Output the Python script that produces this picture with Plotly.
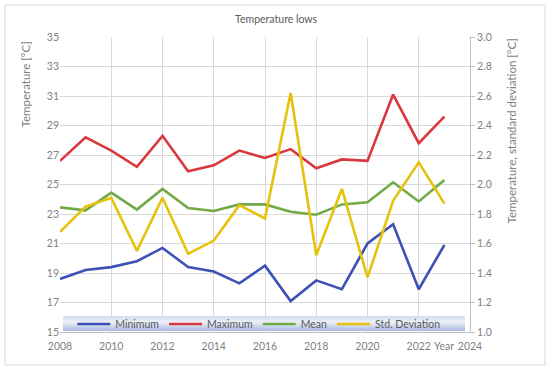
import base64
import plotly.graph_objects as go

years = list(range(2008, 2024))
minimum = [18.6, 19.2, 19.4, 19.8, 20.7, 19.4, 19.1, 18.3, 19.5, 17.1, 18.5, 17.9, 21.0, 22.3, 17.9, 20.9]
maximum = [26.6, 28.2, 27.3, 26.2, 28.3, 25.9, 26.3, 27.3, 26.8, 27.4, 26.1, 26.7, 26.6, 31.1, 27.8, 29.6]
mean = [23.45, 23.25, 24.45, 23.3, 24.7, 23.4, 23.2, 23.65, 23.65, 23.15, 22.95, 23.65, 23.8, 25.15, 23.85, 25.3]
std_dev = [1.68, 1.85, 1.91, 1.55, 1.91, 1.53, 1.62, 1.86, 1.77, 2.62, 1.52, 1.97, 1.37, 1.89, 2.15, 1.87]

x_ticks = list(range(2008, 2025, 2))
left_ticks = list(range(15, 36, 2))
right_ticks = [1.0, 1.2, 1.4, 1.6, 1.8, 2.0, 2.2, 2.4, 2.6, 2.8, 3.0]

FONT = "Lato"
GRAY = "#7f7f7f"
TXT = "#595959"
GRID = "#d9d9d9"
TICK = 10.5

fig = go.Figure()
fig.add_trace(go.Scatter(x=years, y=minimum, name="Minimum", mode="lines",
                         line=dict(color="#3d52b4", width=2.6)))
fig.add_trace(go.Scatter(x=years, y=maximum, name="Maximum", mode="lines",
                         line=dict(color="#d9383f", width=2.6)))
fig.add_trace(go.Scatter(x=years, y=mean, name="Mean", mode="lines",
                         line=dict(color="#72aa45", width=2.6)))
fig.add_trace(go.Scatter(x=years, y=std_dev, name="Std. Deviation", mode="lines",
                         line=dict(color="#e6c20c", width=2.6), yaxis="y2"))

svg = ("<svg xmlns='http://www.w3.org/2000/svg' width='400' height='16' preserveAspectRatio='none' viewBox='0 0 400 16'>"
       "<defs><linearGradient id='g' x1='0' y1='0' x2='0' y2='1'>"
       "<stop offset='0' stop-color='#cfdaee'/><stop offset='0.4' stop-color='#eef2f9'/>"
       "<stop offset='1' stop-color='#a6b8df'/></linearGradient></defs>"
       "<rect width='400' height='16' fill='url(#g)'/></svg>")
uri = "data:image/svg+xml;base64," + base64.b64encode(svg.encode()).decode()

fig.update_layout(
    width=550, height=371,
    margin=dict(l=60, r=80, t=37, b=39),
    paper_bgcolor="white", plot_bgcolor="rgba(0,0,0,0)",
    font=dict(family=FONT, size=TICK, color=GRAY),
    title=dict(text="Temperature lows", x=0.502, xanchor="center", y=0.948, yanchor="middle",
               font=dict(family=FONT, size=10.5, color=TXT)),
    xaxis=dict(range=[2008, 2024], tickvals=x_ticks, showgrid=True, gridcolor=GRID, gridwidth=1,
               zeroline=False, showline=True, linecolor="#bfbfbf", ticks="", ticklabelstandoff=4,
               tickfont=dict(size=TICK, color=GRAY)),
    yaxis=dict(range=[15, 35], tickvals=left_ticks, showgrid=True, gridcolor=GRID,
               zeroline=False, showline=False, ticks="", tickfont=dict(size=TICK, color=GRAY)),
    yaxis2=dict(range=[1, 3], tickvals=right_ticks, tickformat=".1f", overlaying="y", side="right",
                showgrid=False, zeroline=False, showline=True, linecolor="#bfbfbf",
                ticks="outside", ticklen=4, tickcolor="#bfbfbf", tickfont=dict(size=TICK, color=GRAY)),
    showlegend=True,
    legend=dict(orientation="h", x=0.03, xanchor="left", y=0.027, yanchor="middle",
                bgcolor="rgba(0,0,0,0)",
                font=dict(family=FONT, size=10.5, color=TXT), itemwidth=33),
    images=[dict(source=uri, xref="paper", yref="paper", x=0.007, y=0.054, sizex=0.981, sizey=0.051,
                 xanchor="left", yanchor="top", sizing="stretch", layer="above")],
    shapes=[dict(type="rect", xref="paper", yref="paper", x0=-0.134, x1=1.183, y0=-0.112, y1=1.108,
                 line=dict(color="#d9d9d9", width=1), fillcolor="rgba(0,0,0,0)")],
    annotations=[
        dict(text="Temperature [°C]", xref="paper", yref="paper", x=-0.085, y=0.84, textangle=-90,
             showarrow=False, xanchor="center", yanchor="middle", font=dict(size=11.5, color=GRAY)),
        dict(text="Temperature, standard deviation [°C]", xref="paper", yref="paper", x=1.1, y=0.68,
             textangle=-90, showarrow=False, xanchor="center", yanchor="middle",
             font=dict(size=11.5, color=GRAY)),
        dict(text="Year", xref="x", yref="paper", x=2023, y=-0.047, showarrow=False,
             xanchor="center", yanchor="middle", font=dict(size=TICK, color=GRAY)),
    ],
)

fig.write_html("out.html", config={"displayModeBar": False},
               post_script="document.body.style.margin='0';document.body.style.overflow='hidden';")
